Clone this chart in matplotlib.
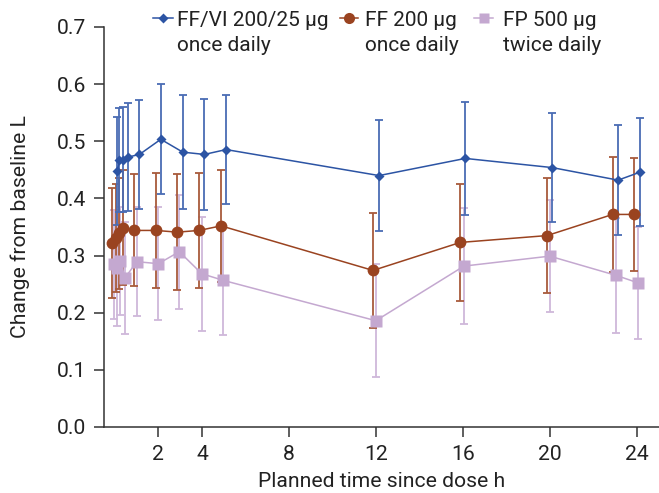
import matplotlib
matplotlib.use("Agg")
import matplotlib.pyplot as plt
from matplotlib.lines import Line2D

# ---- data ----
hours_ffvi = [0.12, 0.21, 0.39, 0.62, 1.13, 2.11, 3.12, 4.11, 5.11, 12.14, 16.1, 20.09, 23.12, 24.13]
mean_ffvi = [0.448, 0.468, 0.468, 0.4725, 0.477, 0.5035, 0.481, 0.477, 0.4855, 0.440, 0.470, 0.454, 0.432, 0.446]
err_ffvi = [0.095, 0.091, 0.092, 0.095, 0.095, 0.096, 0.100, 0.097, 0.095, 0.097, 0.099, 0.096, 0.096, 0.095]

hours_ff = [-0.14, 0.06, 0.21, 0.35, 0.89, 1.88, 2.87, 3.87, 4.88, 11.86, 15.87, 19.86, 22.87, 23.87]
mean_ff = [0.322, 0.331, 0.339, 0.349, 0.344, 0.344, 0.341, 0.344, 0.352, 0.274, 0.323, 0.335, 0.372, 0.372]
err_ff = [0.097, 0.094, 0.097, 0.100, 0.098, 0.100, 0.102, 0.100, 0.098, 0.100, 0.102, 0.100, 0.101, 0.099]

hours_fp = [-0.03, 0.09, 0.24, 0.47, 1.01, 2.0, 2.96, 3.99, 4.98, 11.99, 16.04, 19.98, 23.03, 24.02]
mean_fp = [0.2846, 0.278, 0.2904, 0.2613, 0.2893, 0.2858, 0.3068, 0.2683, 0.2566, 0.186, 0.2816, 0.299, 0.2653, 0.2525]
err_fp = [0.095, 0.102, 0.094, 0.098, 0.095, 0.099, 0.100, 0.100, 0.096, 0.099, 0.101, 0.098, 0.100, 0.098]

labels_line1 = ["FF/VI 200/25 \u03bcg", "FF 200 \u03bcg", "FP 500 \u03bcg"]
labels_line2 = ["once daily", "once daily", "twice daily"]
x_ticks = [2, 4, 8, 12, 16, 20, 24]
y_ticks = [0.0, 0.1, 0.2, 0.3, 0.4, 0.5, 0.6, 0.7]

plt.rcParams['font.family'] = ['Roboto', 'DejaVu Sans']
FS = 15.2
LFS = 15

W, H = 659, 493
fig = plt.figure(figsize=(W / 100, H / 100), dpi=100)
ax = fig.add_axes([104 / W, (H - 427) / H, (659 - 104) / W, (427 - 27) / H])

c_blue, c_blue_e = '#2c54a4', '#4a6cb4'
c_brown, c_brown_e = '#9a4320', '#a85a3c'
c_purple, c_purple_e = '#c4a8d0', '#cfb8da'
txt = '#222222'

eb_kw = dict(fmt='none', capsize=3, elinewidth=1.3, capthick=1.3)
ax.errorbar(hours_fp, mean_fp, yerr=err_fp, ecolor=c_purple_e, zorder=2, **eb_kw)
ax.errorbar(hours_ff, mean_ff, yerr=err_ff, ecolor=c_brown_e, zorder=2, **eb_kw)
ax.errorbar(hours_ffvi, mean_ffvi, yerr=err_ffvi, ecolor=c_blue_e, zorder=2, **eb_kw)

ax.plot(hours_fp, mean_fp, color=c_purple, lw=1.1, marker='s', ms=8, mec='none', zorder=3)
ax.plot(hours_ff, mean_ff, color=c_brown, lw=1.1, marker='o', ms=8.5, mec='none', zorder=4)
ax.plot(hours_ffvi, mean_ffvi, color=c_blue, lw=1.1, marker='D', ms=5.5, mec='none', zorder=5)

ax.set_xlim(-0.5, 25)
ax.set_ylim(0, 0.7)
ax.set_xticks(x_ticks)
ax.set_yticks(y_ticks)
ax.set_yticklabels([f"{v:.1f}" for v in y_ticks])

for s in ['top', 'right']:
    ax.spines[s].set_visible(False)
for s in ['left', 'bottom']:
    ax.spines[s].set_color('#333333')
    ax.spines[s].set_linewidth(1.1)
ax.tick_params(axis='both', colors='#333333', labelcolor=txt, length=7, width=1.1, pad=6, labelsize=FS)

ax.set_xlabel("Planned time since dose h", fontsize=FS, color=txt, labelpad=6)
ax.set_ylabel("Change from baseline L", fontsize=FS, color=txt, labelpad=19)

# ---- legend, built by hand so the key sits on the first text line ----
series_styles = [
    dict(color=c_blue, marker='D', ms=5),
    dict(color=c_brown, marker='o', ms=8),
    dict(color=c_purple, marker='s', ms=7.5),
]
handle_x = [(153, 173), (340, 358), (474, 493)]
text_x = [177, 365, 503]
for (x0, x1), tx, st, l1, l2 in zip(handle_x, text_x, series_styles, labels_line1, labels_line2):
    yk = 1 - 17.5 / H
    fig.add_artist(Line2D([x0 / W, x1 / W], [yk, yk], transform=fig.transFigure,
                          color=st['color'], lw=1.1))
    fig.add_artist(Line2D([(x0 + x1) / 2 / W], [yk], transform=fig.transFigure,
                          color=st['color'], marker=st['marker'], ms=st['ms'], mec='none', lw=0))
    fig.text(tx / W, 1 - 26.5 / H, l1, fontsize=LFS, color=txt, ha='left', va='baseline')
    fig.text(tx / W, 1 - 51 / H, l2, fontsize=LFS, color=txt, ha='left', va='baseline')

fig.savefig("out.png", dpi=100)
